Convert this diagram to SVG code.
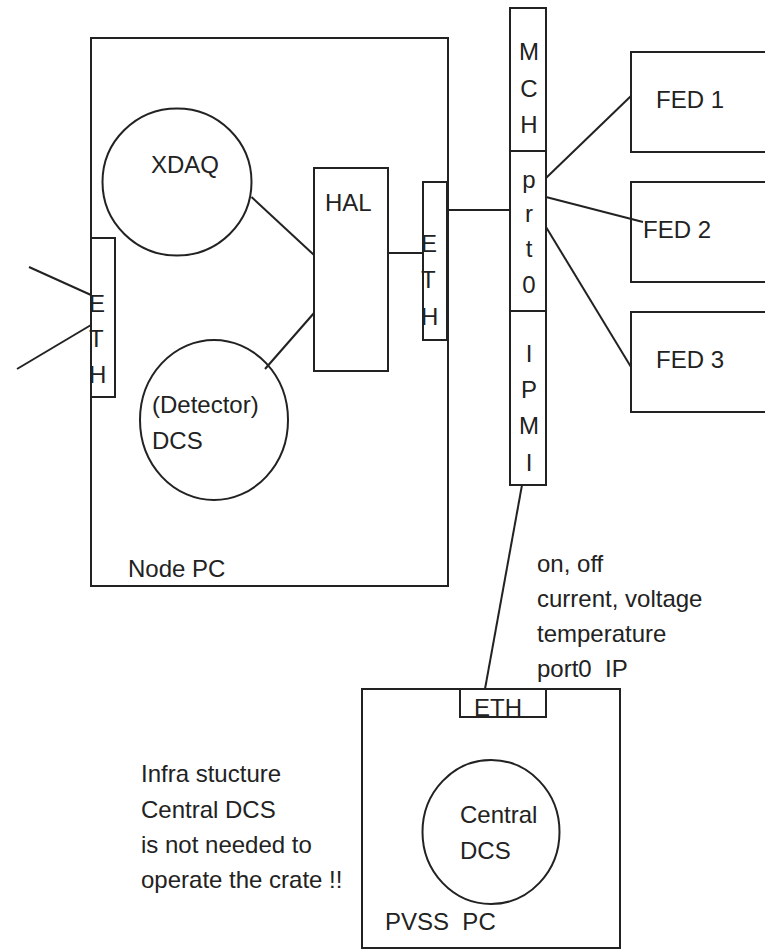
<svg xmlns="http://www.w3.org/2000/svg" width="765" height="949" viewBox="0 0 765 949">
<style>
.box{fill:none;stroke:#222;stroke-width:2}
.ln{fill:none;stroke:#222;stroke-width:2}
text{font-family:"Liberation Sans",Arial,sans-serif;font-size:24px;fill:#222}
.mid{text-anchor:middle}
.pre{white-space:pre}
</style>
<rect width="765" height="949" fill="#fff"/>
<g id="node-pc">
<rect class="box" x="91" y="38" width="357" height="548"/>
<text x="128" y="577">Node PC</text>
</g>
<g id="xdaq">
<ellipse class="box" cx="177" cy="182" rx="74.5" ry="73.5"/>
<text x="151" y="173">XDAQ</text>
</g>
<g id="detector-dcs">
<ellipse class="box" cx="214" cy="420" rx="74" ry="80"/>
<text x="152" y="413">(Detector)</text>
<text x="152" y="449">DCS</text>
</g>
<g id="hal">
<rect class="box" x="314" y="168" width="74" height="203"/>
<text x="325" y="211">HAL</text>
</g>
<g id="eth-left">
<rect class="box" x="91" y="238" width="24" height="159"/>
<text x="89" y="312">E</text>
<text x="89" y="347">T</text>
<text x="89" y="383">H</text>
</g>
<g id="eth-right">
<rect class="box" x="423" y="182" width="24" height="158"/>
<text x="421" y="252">E</text>
<text x="421" y="288">T</text>
<text x="421" y="325">H</text>
</g>
<g id="mch">
<rect class="box" x="510" y="8" width="36" height="477"/>
<line class="ln" x1="510" y1="151" x2="546" y2="151"/>
<line class="ln" x1="510" y1="311" x2="546" y2="311"/>
<text class="mid" x="529" y="60">M</text>
<text class="mid" x="529" y="97">C</text>
<text class="mid" x="529" y="133">H</text>
<text class="mid" x="529" y="188">p</text>
<text class="mid" x="529" y="222">r</text>
<text class="mid" x="529" y="257">t</text>
<text class="mid" x="529" y="293">0</text>
<text class="mid" x="529" y="362">I</text>
<text class="mid" x="529" y="398">P</text>
<text class="mid" x="529" y="434">M</text>
<text class="mid" x="529" y="471">I</text>
</g>
<g id="fed1">
<rect class="box" x="631" y="52" width="150" height="100"/>
<text x="656" y="108">FED 1</text>
</g>
<g id="fed2">
<rect class="box" x="631" y="182" width="150" height="100"/>
<text x="643" y="238">FED 2</text>
</g>
<g id="fed3">
<rect class="box" x="631" y="312" width="150" height="100"/>
<text x="656" y="368">FED 3</text>
</g>
<g id="pvss-pc">
<rect class="box" x="362" y="689" width="258" height="259"/>
<text class="pre" x="385" y="930" xml:space="preserve">PVSS  PC</text>
</g>
<g id="eth-pvss">
<rect class="box" x="460" y="689" width="86" height="28"/>
<text x="474" y="716">ETH</text>
</g>
<g id="central-dcs">
<ellipse class="box" cx="491" cy="832" rx="68.5" ry="72"/>
<text x="460" y="823">Central</text>
<text x="460" y="859">DCS</text>
</g>
<g id="ipmi-label">
<text x="537" y="572">on, off</text>
<text x="537" y="607">current, voltage</text>
<text x="537" y="642">temperature</text>
<text class="pre" x="537" y="677" xml:space="preserve">port0  IP</text>
</g>
<g id="note">
<text x="141" y="782">Infra stucture</text>
<text x="141" y="818">Central DCS</text>
<text x="141" y="853">is not needed to</text>
<text x="141" y="888">operate the crate !!</text>
</g>
<g id="connectors">
<line class="ln" x1="29" y1="267" x2="91" y2="295"/>
<line class="ln" x1="17" y1="369" x2="91" y2="325"/>
<line class="ln" x1="251.5" y1="197" x2="314" y2="255"/>
<line class="ln" x1="265" y1="369" x2="314" y2="313"/>
<line class="ln" x1="388" y1="253" x2="423" y2="253"/>
<line class="ln" x1="447" y1="210" x2="510" y2="210"/>
<line class="ln" x1="546" y1="178" x2="631" y2="96"/>
<line class="ln" x1="546" y1="197" x2="643" y2="222"/>
<line class="ln" x1="546" y1="227" x2="631" y2="367"/>
<line class="ln" x1="522" y1="485" x2="485" y2="689"/>
</g>
</svg>
